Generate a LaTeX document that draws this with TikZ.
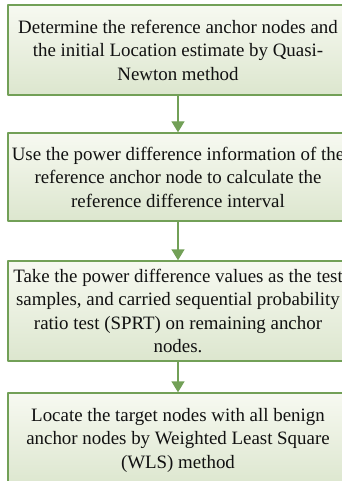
\documentclass[tikz,border=0pt]{standalone}
\usepackage{fontspec}
\setmainfont{Liberation Serif}
\usetikzlibrary{arrows.meta,positioning}
\newcommand{\Unit}{1pt}
\newcommand{\Edge}{1.4pt}
\newcommand{\BoxW}{340}
\definecolor{leaf}{HTML}{72A057}
\definecolor{leaflight}{HTML}{F7F9F1}
\definecolor{leafpale}{HTML}{DCE6CE}
\definecolor{ink}{HTML}{111111}

\begin{document}
\begin{tikzpicture}[x=\Unit,y=\Unit, line join=round,
  stepbox/.style={draw=leaf, line width=\Edge, top color=leaflight, bottom color=leafpale,
    minimum width=\BoxW*\Unit, inner sep=0pt, align=center, text=ink,
    font=\fontsize{18.9}{23.5}\selectfont},
  flow/.style={leaf, line width=1.4pt, -{Triangle[length=11pt,width=13pt]}}]

  % ---- page -----------------------------------------------------------------
  \useasboundingbox (0,0) rectangle (341,-481);

  % ---- the four steps -------------------------------------------------------
  \node[stepbox, minimum height=90*\Unit] (init) at (178,-50)
    {Determine the reference anchor nodes and\\the initial Location estimate by Quasi-\\Newton method};
  \node[stepbox, minimum height=88*\Unit] (interval) at (178,-177)
    {Use the power difference information of the\\reference anchor node to calculate the\\reference difference interval};
  \node[stepbox, minimum height=100*\Unit] (sprt) at (178,-311)
    {Take the power difference values as the test\\samples, and carried sequential probability\\ratio test (SPRT) on remaining anchor\\nodes.};
  \node[stepbox, minimum height=94*\Unit] (wls) at (178,-440)
    {Locate the target nodes with all benign\\anchor nodes by Weighted Least Square\\(WLS) method};

  % ---- arrows ---------------------------------------------------------------
  \draw[flow] (init) -- (interval);
  \draw[flow] (interval) -- (sprt);
  \draw[flow] (sprt) -- (wls);

\end{tikzpicture}
\end{document}
